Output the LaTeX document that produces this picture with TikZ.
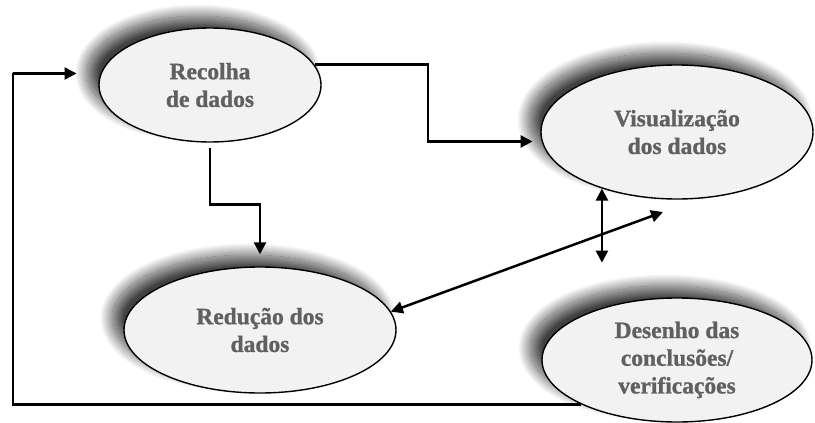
\documentclass[tikz,border=0pt]{standalone}
\usepackage{fontspec}
\setmainfont{Liberation Serif}[BoldFeatures={FakeBold=1}]
\usetikzlibrary{shapes.geometric,arrows.meta,shadows.blur,calc}
\definecolor{txtgray}{HTML}{606060}
\definecolor{fillgray}{HTML}{F2F2F2}
\tikzset{
  bubble/.style={ellipse, draw=black, line width=1.4pt, fill=fillgray, inner sep=0pt,
    align=center, text=txtgray, font=\fontsize{23.5}{27.7}\selectfont\bfseries,
    blur shadow={shadow xshift=-12pt, shadow yshift=12pt, shadow blur radius=12pt,
      shadow blur steps=40, shadow opacity=75}},
  arr/.style={line width=2.5pt, -{Triangle[length=12pt,width=12pt]}},
  darr/.style={line width=2.5pt, {Triangle[length=12pt,width=12pt]}-{Triangle[length=12pt,width=12pt]}}
}
\begin{document}
\begin{tikzpicture}[x=1pt,y=-1pt]
\useasboundingbox (0,0) rectangle (815,423);
\node[bubble, minimum width=222pt, minimum height=114pt] (rec) at (210,85) {Recolha\\de dados};
\node[bubble, minimum width=272pt, minimum height=134pt] (vis) at (677,132) {Visualização\\dos dados};
\node[bubble, minimum width=272pt, minimum height=126pt] (red) at (260,330) {Redução dos\\dados};
\node[bubble, minimum width=270pt, minimum height=124pt] (des) at (677,360) {Desenho das\\conclusões/\\verificações};
\coordinate (dg) at (663,212);
\coordinate (fbk) at (13,73);
\draw[arr, shorten >=9pt] (rec.11) -| ($(rec.11)!.5!(vis.184)$) |- (vis.184);
\draw[arr, shorten <=5pt, shorten >=12pt] (rec.south) |- ($(rec.south)!.5!(red.north)$) -| (red.north);
\draw[darr, shorten >=45pt] (vis.217) -- (vis.217 |- des.145);
\draw[darr] (red.8) -- (dg);
\draw[arr, shorten >=24pt] (des.205) -| (fbk) |- (rec.174);
\end{tikzpicture}
\end{document}
